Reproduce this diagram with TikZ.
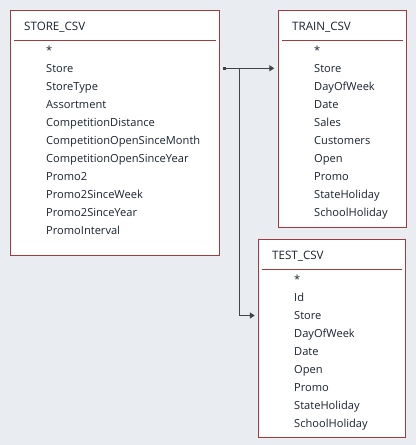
\documentclass[tikz,border=0pt]{standalone}
\usepackage{fontspec}
\setmainfont{Open Sans}
\usetikzlibrary{arrows.meta,calc}
\definecolor{bg}{HTML}{E9EDF2}
\definecolor{frame}{HTML}{A33A3C}
\definecolor{ink}{HTML}{1A2230}
\definecolor{wire}{HTML}{404348}
\begin{document}
\begin{tikzpicture}[x=1pt,y=-1pt,
  tbl/.style={draw=frame,line width=1pt,fill=white,anchor=north west,inner sep=0pt,outer sep=0pt},
  hdr/.style={draw=frame,line width=1pt},
  ttl/.style={anchor=base west,inner sep=0pt,text=ink,font=\fontsize{11.6}{13}\selectfont},
  fld/.style={anchor=base west,inner sep=0pt,text=ink,font=\fontsize{11.1}{13}\selectfont},
  wireln/.style={draw=wire,line width=1.3pt,-{Triangle[length=5pt,width=6pt]}}]
\useasboundingbox[fill=bg] (0,0) rectangle (416,445);

% STORE_CSV
\node[tbl,minimum width=209.5pt,minimum height=245pt] (store) at (10,10) {};
\draw[hdr] ($(store.north west)+(4,30)$) -- ($(store.north east)+(-3.5,30)$);
\node[ttl] (storeT) at (24,30) {STORE\_CSV};
\foreach \t [count=\i from 0] in {*,Store,StoreType,Assortment,CompetitionDistance,CompetitionOpenSinceMonth,CompetitionOpenSinceYear,Promo2,Promo2SinceWeek,Promo2SinceYear,PromoInterval}
  \node[fld] (s\i) at (46,54.5+18*\i) {\t};

% TRAIN_CSV
\node[tbl,minimum width=128.2pt,minimum height=217.7pt] (train) at (278.3,10) {};
\draw[hdr] ($(train.north west)+(4,30)$) -- ($(train.north east)+(-3.5,30)$);
\node[ttl] (trainT) at (292,30) {TRAIN\_CSV};
\foreach \t [count=\i from 0] in {*,Store,DayOfWeek,Date,Sales,Customers,Open,Promo,StateHoliday,SchoolHoliday}
  \node[fld] (r\i) at (314,54.5+18*\i) {\t};

% TEST_CSV
\node[tbl,minimum width=147.4pt,minimum height=198pt] (test) at (258.3,239.3) {};
\draw[hdr] ($(test.north west)+(4,30)$) -- ($(test.north east)+(-3.5,30)$);
\node[ttl] (testT) at (272,259.5) {TEST\_CSV};
\foreach \t [count=\i from 0] in {*,Id,Store,DayOfWeek,Date,Open,Promo,StateHoliday,SchoolHoliday}
  \node[fld] (e\i) at (294,283.5+18*\i) {\t};

% connectors
\coordinate (src) at (224.5,68.3);
\coordinate (jn) at (239.5,68.3);
\coordinate (testrow) at ($(test.north west)+(0,76.2)$);
\fill[wire] ($(src)+(-1.3,-1.3)$) rectangle ($(src)+(1.3,1.3)$);
\draw[wireln,shorten >=4pt] (src) -- (src -| train.west);
\draw[wireln,shorten >=3.5pt] (jn) |- (testrow);
\end{tikzpicture}
\end{document}
